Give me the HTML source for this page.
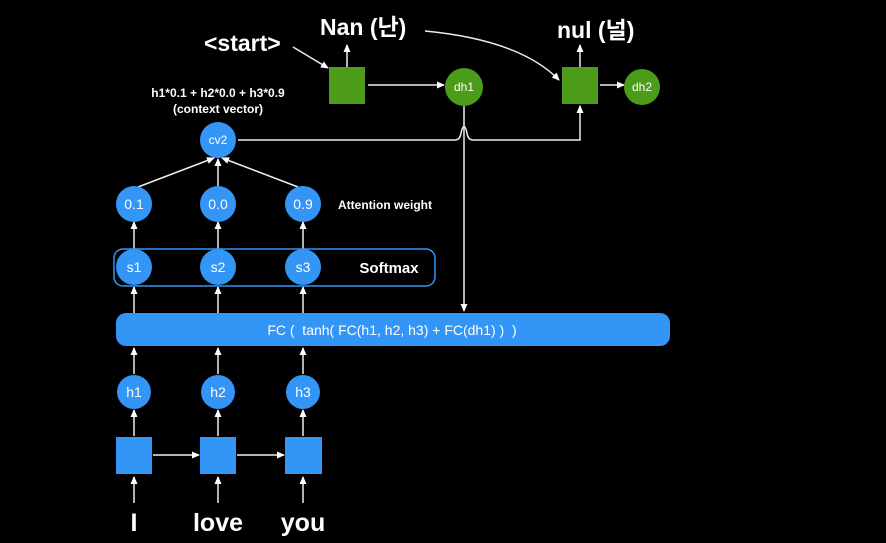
<!DOCTYPE html>
<html><head><meta charset="utf-8"><style>
html,body{margin:0;padding:0;background:#000;}
svg{display:block}
text{font-family:"Liberation Sans","Noto Sans CJK KR",sans-serif;fill:#fff;}
</style></head><body>
<svg width="886" height="543" viewBox="0 0 886 543" xmlns="http://www.w3.org/2000/svg">
<defs>
<marker id="a" markerWidth="8" markerHeight="8" refX="7" refY="4" orient="auto" markerUnits="userSpaceOnUse">
<path d="M0,0.5 L8,4 L0,7.5 Z" fill="#fff"/></marker>
</defs>
<g stroke="#eee" stroke-width="1.5" fill="none" marker-end="url(#a)">
<!-- inputs -->
<line x1="134" y1="503" x2="134" y2="477"/>
<line x1="218" y1="503" x2="218" y2="477"/>
<line x1="303" y1="503" x2="303" y2="477"/>
<line x1="153" y1="455" x2="199" y2="455"/>
<line x1="237" y1="455" x2="284" y2="455"/>
<line x1="134" y1="436" x2="134" y2="410"/>
<line x1="218" y1="436" x2="218" y2="410"/>
<line x1="303" y1="436" x2="303" y2="410"/>
<line x1="134" y1="374" x2="134" y2="348"/>
<line x1="218" y1="374" x2="218" y2="348"/>
<line x1="303" y1="374" x2="303" y2="348"/>
<line x1="134" y1="313" x2="134" y2="287"/>
<line x1="218" y1="313" x2="218" y2="287"/>
<line x1="303" y1="313" x2="303" y2="287"/>
<line x1="134" y1="250" x2="134" y2="222"/>
<line x1="218" y1="250" x2="218" y2="222"/>
<line x1="303" y1="250" x2="303" y2="222"/>
<line x1="138" y1="187" x2="214" y2="158"/>
<line x1="218" y1="187" x2="218" y2="159"/>
<line x1="298" y1="187" x2="222" y2="158"/>
<line x1="464" y1="106" x2="464" y2="311"/>
<path d="M238,140 L455,140 Q460,140 461,133 Q464,120 467,133 Q468,140 473,140 L580,140 L580,106"/>
<line x1="293" y1="47" x2="328" y2="68"/>
<line x1="347" y1="67" x2="347" y2="45"/>
<line x1="368" y1="85" x2="444" y2="85"/>
<path d="M425,31 Q520,40 559,80"/>
<line x1="580" y1="67" x2="580" y2="45"/>
<line x1="600" y1="85" x2="624" y2="85"/>
</g>
<!-- blue -->
<g fill="#3395f6">
<rect x="116" y="437" width="36" height="37"/>
<rect x="200" y="437" width="36" height="37"/>
<rect x="285" y="437" width="37" height="37"/>
<circle cx="134" cy="392" r="17"/><circle cx="218" cy="392" r="17"/><circle cx="303" cy="392" r="17"/>
<rect x="116" y="313" width="554" height="33" rx="10"/>
<circle cx="134" cy="267" r="18"/><circle cx="218" cy="267" r="18"/><circle cx="303" cy="267" r="18"/>
<circle cx="134" cy="204" r="18"/><circle cx="218" cy="204" r="18"/><circle cx="303" cy="204" r="18"/>
<circle cx="218" cy="140" r="18"/>
</g>
<rect x="114" y="249" width="321" height="37" rx="9" fill="none" stroke="#3395f6" stroke-width="1.5"/>
<!-- green -->
<g fill="#4d9c19">
<rect x="329" y="67" width="36" height="37"/>
<rect x="562" y="67" width="36" height="37"/>
<circle cx="464" cy="87" r="19"/>
<circle cx="642" cy="87" r="18"/>
</g>
<g font-size="14" text-anchor="middle">
<text x="134" y="397">h1</text><text x="218" y="397">h2</text><text x="303" y="397">h3</text>
<text x="134" y="272">s1</text><text x="218" y="272">s2</text><text x="303" y="272">s3</text>
<text x="134" y="209">0.1</text><text x="218" y="209">0.0</text><text x="303" y="209">0.9</text>
</g>
<g font-size="12" text-anchor="middle">
<text x="218" y="144">cv2</text>
<text x="464" y="91">dh1</text>
<text x="642" y="91">dh2</text>
</g>
<text x="392" y="335" font-size="14" text-anchor="middle" xml:space="preserve">FC (  tanh( FC(h1, h2, h3) + FC(dh1) )  )</text>
<text x="389" y="273" font-size="15" font-weight="bold" text-anchor="middle">Softmax</text>
<text x="338" y="209" font-size="12" font-weight="bold">Attention weight</text>
<text x="218" y="97" font-size="12" font-weight="bold" text-anchor="middle">h1*0.1 + h2*0.0 + h3*0.9</text>
<text x="218" y="113" font-size="12" font-weight="bold" text-anchor="middle">(context vector)</text>
<g font-size="23" font-weight="bold">
<text x="204" y="51">&lt;start&gt;</text>
<text x="320" y="35">Nan (난)</text>
<text x="557" y="38">nul (널)</text>
</g>
<g font-size="25" font-weight="bold" text-anchor="middle">
<text x="134" y="531">I</text>
<text x="218" y="531">love</text>
<text x="303" y="531">you</text>
</g>
</svg>
</body></html>
